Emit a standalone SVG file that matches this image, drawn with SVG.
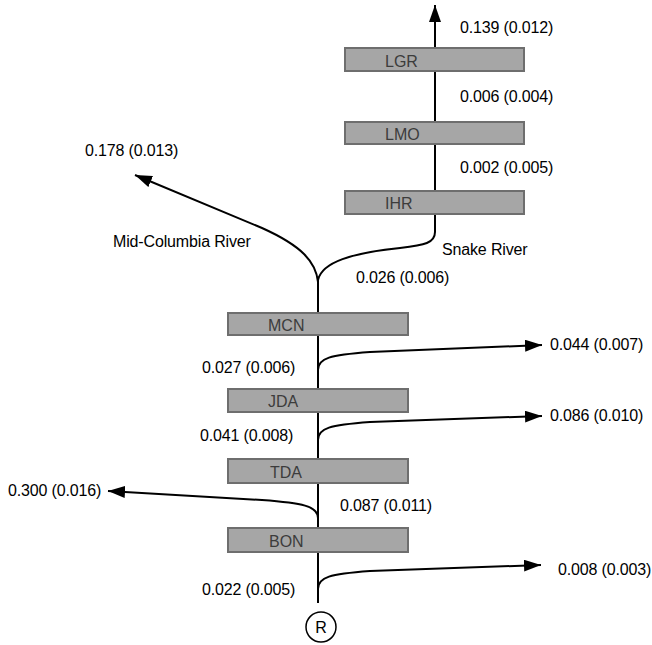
<svg xmlns="http://www.w3.org/2000/svg" width="652" height="645" viewBox="0 0 652 645">
<defs>
<style>
.box{fill:#a6a6a6;stroke:#6e6e6e;stroke-width:2}
.bl{font-family:"Liberation Sans",Arial,sans-serif;font-size:16px;fill:#3c3c3c}
.t{font-family:"Liberation Sans",Arial,sans-serif;font-size:16px;fill:#000;letter-spacing:-0.15px}
.ln{fill:none;stroke:#000;stroke-width:2}
.arr{fill:none;stroke:#000;stroke-width:2;marker-end:url(#ah)}
</style>
<marker id="ah" markerUnits="userSpaceOnUse" markerWidth="18" markerHeight="12" refX="17" refY="6" orient="auto">
<path d="M0,0 L17,6 L0,12 Z" fill="#000"/>
</marker>
</defs>
<rect width="652" height="645" fill="#fff"/>
<g id="connectors">
<path class="arr" d="M435,48 L435,5"/>
<path class="ln" d="M435,71 L435,122"/>
<path class="ln" d="M435,144 L435,191"/>
<path class="ln" d="M435,214 L435,232 C435,243 425,245 400,248 C352,253 322,262 318,280"/>
<path class="arr" d="M318,282 C316,262 302,246 262,228 L135,175"/>
<path class="ln" d="M318,278 L318,313"/>
<path class="ln" d="M318,335 L318,389"/>
<path class="arr" d="M318,370 C318,358 330,355 370,352 L542,345"/>
<path class="ln" d="M318,412 L318,459"/>
<path class="arr" d="M318,440 C318,428 330,425 370,422 L542,416"/>
<path class="ln" d="M318,483 L318,528"/>
<path class="arr" d="M318,518 C318,506 302,503 262,500 L108,491"/>
<path class="ln" d="M318,552 L318,603"/>
<path class="arr" d="M318,589 C318,577 330,574 370,571 L541,565"/>
</g>
<g id="LGR"><rect class="box" x="345" y="48" width="179" height="23"/><text class="bl" x="385" y="67">LGR</text></g>
<g id="LMO"><rect class="box" x="345" y="122" width="179" height="22"/><text class="bl" x="385" y="140">LMO</text></g>
<g id="IHR"><rect class="box" x="345" y="191" width="179" height="23"/><text class="bl" x="385" y="209">IHR</text></g>
<g id="MCN"><rect class="box" x="228" y="313" width="180" height="22"/><text class="bl" x="268" y="331">MCN</text></g>
<g id="JDA"><rect class="box" x="228" y="389" width="180" height="23"/><text class="bl" x="268" y="407">JDA</text></g>
<g id="TDA"><rect class="box" x="228" y="459" width="180" height="24"/><text class="bl" x="270" y="478">TDA</text></g>
<g id="BON"><rect class="box" x="228" y="528" width="180" height="24"/><text class="bl" x="269" y="547">BON</text></g>
<g id="R"><circle cx="321" cy="627" r="15" fill="#fff" stroke="#000" stroke-width="1.5"/><text x="321" y="633" text-anchor="middle" style="font-family:'Liberation Sans',Arial,sans-serif;font-size:16px;fill:#000">R</text></g>
<g id="labels">
<text class="t" x="460" y="33">0.139 (0.012)</text>
<text class="t" x="460" y="102">0.006 (0.004)</text>
<text class="t" x="460" y="173">0.002 (0.005)</text>
<text class="t" x="85" y="156">0.178 (0.013)</text>
<text class="t" x="113" y="247">Mid-Columbia River</text>
<text class="t" x="442" y="255">Snake River</text>
<text class="t" x="356" y="283">0.026 (0.006)</text>
<text class="t" x="550" y="350">0.044 (0.007)</text>
<text class="t" x="202" y="373">0.027 (0.006)</text>
<text class="t" x="550" y="421">0.086 (0.010)</text>
<text class="t" x="200" y="441">0.041 (0.008)</text>
<text class="t" x="8" y="496">0.300 (0.016)</text>
<text class="t" x="340" y="511">0.087 (0.011)</text>
<text class="t" x="558" y="575">0.008 (0.003)</text>
<text class="t" x="202" y="595">0.022 (0.005)</text>
</g>
</svg>
